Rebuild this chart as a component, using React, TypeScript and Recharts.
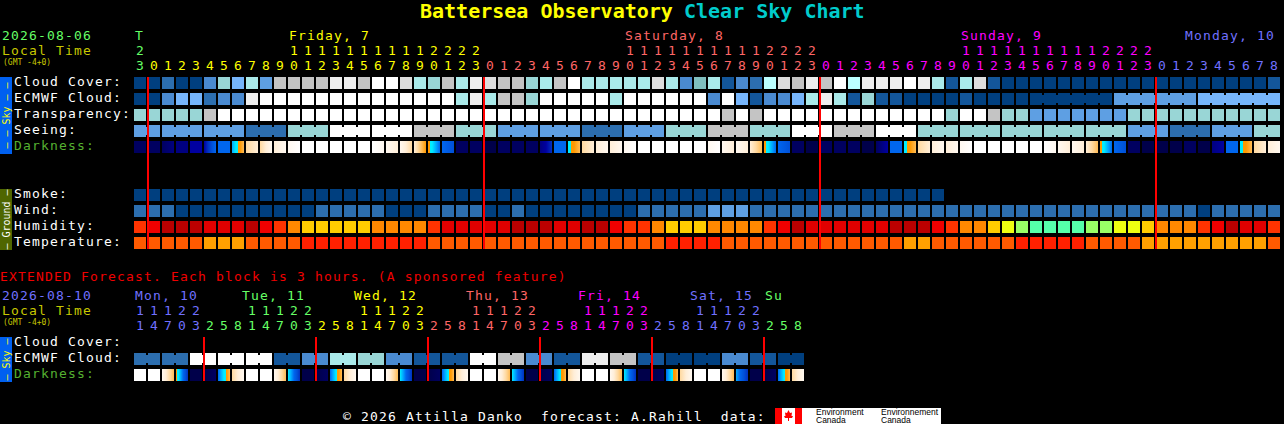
import { ScatterChart, Scatter, XAxis, YAxis, ReferenceLine } from "recharts";

const FONT = "'DejaVu Sans Mono', monospace";
const TEXT_SIZE = 13;
const TEXT_SPACING = 1.17;

// colour scales, the series below hold indexes into these
const skyScale = ["#003f7f", "#13569a", "#2c6eaf", "#4a8ad0", "#5e9fe3", "#76b5fb", "#7fbfbf", "#99d6d6", "#aaeaea", "#bbffff", "#c4c4c4", "#dddddd", "#eeeeee", "#ffffff"];
const humidityScale = ["#bb0000", "#e00000", "#f00000", "#ff3300", "#ff8800", "#ffcc00", "#eeff11", "#99ff66", "#55ffaa"];
const temperatureScale = ["#ff2000", "#ff5a00", "#ffa000"];
const darknessScale = ["#00004a", "#000060", "#000080", "#0000a0", "#0030c0", "#0050d8", "#0066ee", "#00aaff", "#00eeff", "#ff9900", "#ffbb55", "#ffd9a0", "#ffeed8", "#fff8f0", "#ffffff"];

const GREEN = "#66ff66";
const YELLOW = "#ffff00";
const SALMON = "#ff6666";
const MAGENTA = "#ff00ff";
const BLUE = "#7070ff";
const OLIVE = "#c8c800";

// main 82 hour forecast
const mainHours = [23, 0, 1, 2, 3, 4, 5, 6, 7, 8, 9, 10, 11, 12, 13, 14, 15, 16, 17, 18, 19, 20, 21, 22, 23, 0, 1, 2, 3, 4, 5, 6, 7, 8, 9, 10, 11, 12, 13, 14, 15, 16, 17, 18, 19, 20, 21, 22, 23, 0, 1, 2, 3, 4, 5, 6, 7, 8, 9, 10, 11, 12, 13, 14, 15, 16, 17, 18, 19, 20, 21, 22, 23, 0, 1, 2, 3, 4, 5, 6, 7, 8];
const mainDayStarts = [0, 1, 25, 49, 73];
const mainDayColors = [GREEN, YELLOW, SALMON, MAGENTA, BLUE];
const mainDayLabels: Record<number, string> = { 0: "T", 11: "Friday, 7", 35: "Saturday, 8", 59: "Sunday, 9", 75: "Monday, 10" };
const mainMidnights = [1, 25, 49, 73];

const cloudCover = [0, 0, 2, 0, 0, 3, 7, 5, 8, 4, 10, 10, 10, 10, 12, 12, 10, 13, 13, 11, 8, 7, 10, 8, 12, 11, 10, 10, 7, 8, 10, 13, 8, 8, 8, 8, 8, 11, 8, 3, 6, 8, 1, 3, 2, 9, 11, 10, 12, 10, 13, 9, 12, 12, 12, 13, 12, 8, 1, 8, 11, 1, 0, 0, 0, 0, 0, 0, 0, 0, 0, 0, 0, 0, 0, 0, 0, 0, 0, 0, 0, 1];
const ecmwfCloud = [0, 0, 3, 5, 5, 2, 3, 3, 12, 13, 13, 13, 13, 13, 13, 13, 13, 13, 13, 13, 13, 13, 13, 8, 12, 8, 10, 10, 7, 13, 13, 13, 13, 13, 8, 13, 13, 13, 13, 13, 13, 3, 13, 5, 1, 3, 3, 5, 8, 12, 8, 1, 7, 1, 1, 0, 0, 0, 0, 1, 0, 0, 0, 0, 0, 0, 0, 0, 0, 0, 4, 4, 4, 4, 4, 4, 5, 5, 5, 5, 5, 5];
const ecmwfBlocks = [1, 1, 1, 1, 1, 1, 1, 1, 1, 1, 1, 1, 1, 1, 1, 1, 1, 1, 1, 1, 1, 1, 1, 1, 1, 1, 1, 1, 1, 1, 1, 1, 1, 1, 1, 1, 1, 1, 1, 1, 1, 1, 1, 1, 1, 1, 1, 1, 1, 1, 1, 1, 1, 1, 1, 1, 1, 1, 1, 1, 1, 1, 1, 1, 6, 6, 6];
const transparency = [7, 7, 7, 7, 7, 10, 13, 13, 13, 13, 13, 13, 13, 13, 13, 13, 13, 13, 13, 13, 13, 13, 13, 13, 13, 13, 13, 13, 13, 13, 13, 13, 13, 13, 13, 13, 13, 13, 13, 13, 13, 13, 10, 13, 10, 13, 13, 13, 13, 13, 13, 13, 13, 13, 13, 13, 13, 13, 7, 13, 13, 10, 7, 7, 4, 4, 4, 4, 4, 4, 4, 7, 7, 7, 7, 7, 7, 7, 7, 7, 7, 7];
const seeing = [4, 4, 4, 4, 4, 4, 4, 4, 2, 2, 2, 7, 7, 7, 13, 13, 13, 13, 13, 13, 10, 10, 10, 7, 7, 7, 4, 4, 4, 4, 4, 4, 2, 2, 2, 4, 4, 4, 7, 7, 7, 10, 10, 10, 7, 7, 7, 13, 13, 13, 10, 10, 10, 13, 13, 13, 7, 7, 7, 7, 7, 7, 7, 7, 7, 7, 7, 7, 7, 7, 7, 4, 4, 4, 2, 2, 2, 4, 4, 4, 7, 7];
const seeingBlocks = [2, 3, 3, 3, 3, 3, 3, 3, 3, 3, 3, 3, 3, 3, 3, 3, 3, 3, 3, 3, 3, 3, 3, 3, 3, 3, 3, 2];
const darknessFrom = [1, 1, 1, 2, 3, 3, 6, 7, 11, 11, 12, 13, 14, 14, 14, 14, 14, 14, 13, 13, 12, 9, 6, 1, 1, 0, 1, 1, 1, 2, 6, 8, 11, 12, 12, 13, 14, 14, 14, 14, 14, 13, 13, 13, 12, 9, 6, 1, 0, 1, 1, 1, 0, 1, 6, 8, 11, 12, 12, 13, 14, 14, 14, 14, 14, 14, 13, 13, 12, 9, 6, 1, 0, 0, 0, 1, 0, 2, 6, 8, 11, 12];
const darknessTo = [1, 1, 2, 2, 3, 6, 6, 10, 12, 13, 13, 14, 14, 14, 14, 14, 14, 13, 12, 11, 9, 6, 5, 1, 1, 0, 1, 1, 1, 4, 6, 10, 12, 13, 13, 14, 14, 14, 14, 14, 14, 14, 12, 12, 10, 6, 5, 1, 0, 1, 1, 1, 0, 3, 6, 10, 12, 13, 13, 14, 14, 14, 14, 14, 14, 13, 12, 12, 10, 6, 5, 1, 0, 0, 0, 1, 0, 3, 6, 10, 12, 13];
const smoke = [0, 0, 0, 0, 0, 0, 0, 0, 0, 0, 0, 0, 0, 0, 0, 0, 0, 0, 0, 0, 0, 0, 0, 0, 0, 0, 0, 0, 0, 0, 0, 0, 0, 0, 0, 0, 0, 0, 0, 0, 0, 0, 0, 0, 0, 0, 0, 0, 0, 0, 0, 0, 0, 0, 0, 0, 0, 0];
const wind = [2, 2, 2, 0, 0, 0, 0, 0, 0, 0, 0, 0, 0, 2, 2, 2, 2, 2, 0, 0, 0, 2, 2, 2, 2, 0, 0, 2, 0, 0, 0, 0, 0, 0, 0, 0, 2, 2, 2, 2, 2, 4, 4, 4, 2, 2, 2, 2, 2, 2, 2, 2, 2, 2, 2, 2, 2, 2, 2, 2, 2, 2, 2, 2, 2, 2, 2, 2, 2, 2, 2, 2, 2, 2, 2, 2, 0, 2, 2, 2, 2, 2];
const humidity = [3, 2, 0, 0, 0, 1, 1, 1, 0, 2, 3, 4, 5, 5, 5, 5, 5, 4, 4, 4, 4, 3, 1, 1, 1, 1, 1, 0, 0, 0, 1, 1, 0, 0, 2, 3, 3, 4, 5, 5, 5, 4, 4, 4, 4, 3, 2, 0, 1, 1, 1, 1, 1, 1, 0, 0, 0, 2, 3, 4, 4, 5, 6, 7, 8, 8, 8, 8, 7, 7, 6, 6, 5, 4, 4, 4, 3, 2, 0, 1, 1, 3];
const temperature = [1, 1, 1, 1, 1, 2, 2, 2, 1, 1, 1, 1, 0, 0, 0, 0, 0, 0, 0, 0, 0, 1, 1, 1, 1, 1, 1, 1, 1, 1, 1, 1, 1, 1, 1, 1, 1, 1, 0, 0, 0, 0, 1, 1, 1, 1, 1, 1, 1, 1, 1, 1, 1, 1, 1, 2, 2, 1, 1, 1, 1, 1, 1, 0, 0, 0, 0, 0, 1, 1, 1, 1, 2, 2, 2, 2, 2, 2, 2, 2, 2, 1];

// extended forecast, one block is 3 hours
const extHours = [11, 14, 17, 20, 23, 2, 5, 8, 11, 14, 17, 20, 23, 2, 5, 8, 11, 14, 17, 20, 23, 2, 5, 8, 11, 14, 17, 20, 23, 2, 5, 8, 11, 14, 17, 20, 23, 2, 5, 8, 11, 14, 17, 20, 23, 2, 5, 8];
const extDayStarts = [0, 5, 13, 21, 29, 37, 45];
const extDayColors = [BLUE, GREEN, YELLOW, SALMON, MAGENTA, BLUE, GREEN];
const extDayLabels: Record<number, string> = { 0: "Mon, 10", 8: "Tue, 11", 16: "Wed, 12", 24: "Thu, 13", 32: "Fri, 14", 40: "Sat, 15", 45: "Su" };
const extMidnights = [5, 13, 21, 29, 37, 45];
const extEcmwf = [2, 2, 2, 2, 13, 13, 13, 13, 13, 13, 1, 1, 3, 3, 8, 8, 7, 7, 3, 3, 1, 1, 1, 1, 13, 13, 10, 10, 3, 3, 1, 1, 12, 12, 10, 10, 1, 1, 0, 0, 0, 0, 3, 3, 1, 1, 0, 0];
const extBlocks = [2, 2, 2, 2, 2, 2, 2, 2, 2, 2, 2, 2, 2, 2, 2, 2, 2, 2, 2, 2, 2, 2, 2, 2];
const extDarkFrom = [14, 14, 13, 9, 0, 0, 6, 11, 14, 14, 13, 8, 0, 0, 6, 11, 14, 14, 13, 8, 0, 0, 6, 11, 14, 14, 13, 8, 0, 0, 6, 11, 14, 14, 13, 8, 0, 0, 6, 11, 14, 14, 13, 7, 0, 0, 6, 11];
const extDarkTo = [14, 14, 10, 4, 0, 1, 10, 13, 14, 14, 10, 4, 0, 1, 10, 13, 14, 14, 10, 4, 0, 1, 10, 13, 14, 14, 10, 4, 0, 1, 10, 13, 14, 14, 10, 4, 0, 1, 10, 13, 14, 14, 10, 4, 0, 1, 10, 13];

const mainRowLabels: Record<number, string> = { 0: "Cloud Cover:", 1: "ECMWF Cloud:", 2: "Transparency:", 3: "Seeing:", 4: "Darkness:", 7: "Smoke:", 8: "Wind:", 9: "Humidity:", 10: "Temperature:" };
const extRowLabels: Record<number, string> = { 0: "Cloud Cover:", 1: "ECMWF Cloud:", 2: "Darkness:" };
const DARK_LABEL = "Darkness:";

function bridgeFlags(blocks: number[]) {
  const flags: boolean[] = [];
  blocks.forEach((len) => {
    for (let i = 0; i < len; i++) flags.push(i < len - 1);
  });
  return flags;
}

function rowPoints(values: number[], scale: string[], row: number, blocks?: number[]) {
  const flags = blocks ? bridgeFlags(blocks) : [];
  return values.map((v, c) => ({ x: c + 0.5, y: row, color: scale[v], bridge: !!flags[c] }));
}

function darkPoints(from: number[], to: number[], row: number, prefix: string) {
  return from.map((v, c) => ({ x: c + 0.5, y: row, from: v, to: to[c], id: `${prefix}${c}` }));
}

function dayColor(col: number, starts: number[], colors: string[]) {
  let found = colors[0];
  starts.forEach((s, i) => {
    if (col >= s) found = colors[i];
  });
  return found;
}

function BlockCell(props: any) {
  const { cx, cy, payload } = props;
  return (
    <g>
      <rect x={cx - 7} y={cy - 6} width={12} height={12} fill={payload.color} />
      {payload.bridge && <rect x={cx + 5} y={cy - 4} width={2} height={8} fill={payload.color} />}
    </g>
  );
}

function DarkCell(props: any) {
  const { cx, cy, payload } = props;
  const { from, to, id } = payload;
  if (from === to) {
    return <rect x={cx - 7} y={cy - 6} width={12} height={12} fill={darknessScale[from]} />;
  }
  const steps = Math.abs(to - from);
  const dir = to > from ? 1 : -1;
  const stops: { offset: number; color: string }[] = [];
  for (let i = 0; i <= steps; i++) {
    const level = from + dir * i;
    const offset = (i / steps) * 100;
    stops.push({ offset, color: darknessScale[level] });
    // blue to orange has no soft step
    const next = level + dir;
    if (i < steps && Math.min(level, next) === 8) {
      stops.push({ offset: ((i + 0.5) / steps) * 100, color: darknessScale[level] });
      stops.push({ offset: ((i + 0.5) / steps) * 100, color: darknessScale[next] });
    }
  }
  return (
    <g>
      <defs>
        <linearGradient id={id} x1="0" y1="0" x2="1" y2="0">
          {stops.map((s, i) => (
            <stop key={i} offset={`${s.offset}%`} stopColor={s.color} />
          ))}
        </linearGradient>
      </defs>
      <rect x={cx - 7} y={cy - 6} width={12} height={12} fill={`url(#${id})`} />
    </g>
  );
}

function HourTick(props: any) {
  const { x, y, payload, hours, starts, colors, labels, labelDx } = props;
  const col = Math.floor(payload.value);
  const hour = hours[col];
  const color = dayColor(col, starts, colors);
  const label = labels[col];
  return (
    <g fontFamily={FONT} fontSize={TEXT_SIZE} fill={color}>
      {label && (
        <text x={x + labelDx(col)} y={y - 37} letterSpacing={TEXT_SPACING}>
          {label}
        </text>
      )}
      {hour >= 10 && (
        <text x={x - 1} y={y - 22} textAnchor="middle">
          {Math.floor(hour / 10)}
        </text>
      )}
      <text x={x - 1} y={y - 7} textAnchor="middle">
        {hour % 10}
      </text>
    </g>
  );
}

function RowTick(props: any) {
  const { y, payload, labels } = props;
  const text = labels[payload.value];
  return (
    <text x={14} y={y + 3} fontFamily={FONT} fontSize={TEXT_SIZE} letterSpacing={TEXT_SPACING} fill={text === DARK_LABEL ? "#55b030" : "#ffffff"}>
      {text}
    </text>
  );
}

// the red midnight lines have to lie over the cells, so they get their own chart on top
function MidnightLines({ width, height, margin, xDomain, yDomain, cols }: any) {
  return (
    <div style={{ position: "absolute", left: 0, top: 0 }}>
      <ScatterChart width={width} height={height} margin={margin}>
        <XAxis type="number" dataKey="x" domain={xDomain} hide />
        <YAxis type="number" dataKey="y" domain={yDomain} reversed hide />
        <Scatter data={cols.map((c: number) => ({ x: c, y: 0 }))} shape={() => <g />} isAnimationActive={false} />
        {cols.map((c: number) => (
          <ReferenceLine key={c} x={c} stroke="#ff0000" strokeWidth={2} />
        ))}
      </ScatterChart>
    </div>
  );
}

const mainTicks = mainHours.map((_, c) => c + 0.5);
const extTicks = extHours.map((_, c) => c + 0.5);
const mainXDomain = [0, 82];
const mainYDomain = [-0.375, 10.375];
const extXDomain = [0, 48];
const extYDomain = [-0.375, 2.375];

function MainChart() {
  return (
    <ScatterChart width={1284} height={255} margin={{ top: 0, right: 2, bottom: 6, left: 0 }}>
      <XAxis
        type="number"
        dataKey="x"
        orientation="top"
        domain={mainXDomain}
        ticks={mainTicks}
        interval={0}
        height={77}
        axisLine={false}
        tickLine={false}
        tickSize={0}
        tickMargin={0}
        tick={(p: any) => (
          <HourTick {...p} hours={mainHours} starts={mainDayStarts} colors={mainDayColors} labels={mainDayLabels} labelDx={() => -6} />
        )}
      />
      <YAxis
        type="number"
        dataKey="y"
        reversed
        domain={mainYDomain}
        ticks={[0, 1, 2, 3, 4, 7, 8, 9, 10]}
        interval={0}
        width={134}
        axisLine={false}
        tickLine={false}
        tickSize={0}
        tick={(p: any) => <RowTick {...p} labels={mainRowLabels} />}
      />
      <Scatter data={rowPoints(cloudCover, skyScale, 0)} shape={BlockCell} isAnimationActive={false} />
      <Scatter data={rowPoints(ecmwfCloud, skyScale, 1, ecmwfBlocks)} shape={BlockCell} isAnimationActive={false} />
      <Scatter data={rowPoints(transparency, skyScale, 2)} shape={BlockCell} isAnimationActive={false} />
      <Scatter data={rowPoints(seeing, skyScale, 3, seeingBlocks)} shape={BlockCell} isAnimationActive={false} />
      <Scatter data={darkPoints(darknessFrom, darknessTo, 4, "main-dark-")} shape={DarkCell} isAnimationActive={false} />
      <Scatter data={rowPoints(smoke, skyScale, 7)} shape={BlockCell} isAnimationActive={false} />
      <Scatter data={rowPoints(wind, skyScale, 8)} shape={BlockCell} isAnimationActive={false} />
      <Scatter data={rowPoints(humidity, humidityScale, 9)} shape={BlockCell} isAnimationActive={false} />
      <Scatter data={rowPoints(temperature, temperatureScale, 10)} shape={BlockCell} isAnimationActive={false} />
    </ScatterChart>
  );
}

function ExtendedChart() {
  return (
    <ScatterChart width={806} height={104} margin={{ top: 0, right: 0, bottom: 3, left: 0 }}>
      <XAxis
        type="number"
        dataKey="x"
        orientation="top"
        domain={extXDomain}
        ticks={extTicks}
        interval={0}
        height={57}
        axisLine={false}
        tickLine={false}
        tickSize={0}
        tickMargin={0}
        tick={(p: any) => (
          <HourTick
            {...p}
            hours={extHours}
            starts={extDayStarts}
            colors={extDayColors}
            labels={extDayLabels}
            labelDx={(c: number) => (c === 0 || c === 45 ? -6 : -11)}
          />
        )}
      />
      <YAxis
        type="number"
        dataKey="y"
        reversed
        domain={extYDomain}
        ticks={[0, 1, 2]}
        interval={0}
        width={134}
        axisLine={false}
        tickLine={false}
        tickSize={0}
        tick={(p: any) => <RowTick {...p} labels={extRowLabels} />}
      />
      <Scatter data={rowPoints(extEcmwf, skyScale, 1, extBlocks)} shape={BlockCell} isAnimationActive={false} />
      <Scatter data={darkPoints(extDarkFrom, extDarkTo, 2, "ext-dark-")} shape={DarkCell} isAnimationActive={false} />
    </ScatterChart>
  );
}

function SideStrip({ y, height, fill, color, text }: { y: number; height: number; fill: string; color: string; text: string }) {
  const mid = y + height / 2;
  return (
    <g>
      <rect x={0} y={y} width={12} height={height} fill={fill} />
      <text x={6} y={mid} transform={`rotate(-90 6 ${mid})`} dy={3.5} textAnchor="middle" fontFamily={FONT} fontSize={10} letterSpacing={0} fill={color}>
        {text}
      </text>
    </g>
  );
}

function Overlay() {
  return (
    <svg width={1284} height={424} style={{ position: "absolute", left: 0, top: 0 }} fontFamily={FONT} fontSize={TEXT_SIZE} letterSpacing={TEXT_SPACING}>
      <text x={420} y={18} fontSize={20} fontWeight="bold" letterSpacing={0} fill="#ffff00">
        Battersea Observatory
      </text>
      <text x={684} y={18} fontSize={20} fontWeight="bold" letterSpacing={0} fill="#00cccc">
        Clear Sky Chart
      </text>

      <text x={2} y={40} fill={GREEN}>2026-08-06</text>
      <text x={2} y={55} fill={OLIVE}>Local Time</text>
      <text x={3} y={65} fontSize={8} letterSpacing={0} fill={OLIVE}>(GMT -4+0)</text>

      <SideStrip y={77} height={77} fill="#0060f0" color="#ffff00" text="– – Sky – –" />
      <SideStrip y={189} height={61} fill="#4f6600" color="#ffffff" text="– Ground –" />
      <SideStrip y={337} height={45} fill="#0060f0" color="#ffff00" text="– Sky –" />

      <text x={0} y={281} fill="#f00000">EXTENDED Forecast. Each block is 3 hours. (A sponsored feature)</text>
      <text x={2} y={300} fill={BLUE}>2026-08-10</text>
      <text x={2} y={315} fill={OLIVE}>Local Time</text>
      <text x={3} y={325} fontSize={8} letterSpacing={0} fill={OLIVE}>(GMT -4+0)</text>

      <text x={343} y={421} fill="#ffffff" xmlSpace="preserve">
        © 2026 Attilla Danko  forecast: A.Rahill  data:
      </text>

      <rect x={775} y={408} width={166} height={16} fill="#ffffff" />
      <rect x={775} y={408} width={7} height={16} fill="#ff0000" />
      <rect x={795} y={408} width={7} height={16} fill="#ff0000" />
      <polygon points="788.5,410 790,413 792,412.5 791.5,416 793,416 792,418 789,418 789,421 788,421 788,418 785,418 784,416 785.500,416 785,412.5 787,413" fill="#ff0000" />
      <g fontFamily="'Liberation Sans', sans-serif" fontSize={8.5} letterSpacing={0} fill="#000000">
        <text x={816} y={415}>Environment</text>
        <text x={816} y={423}>Canada</text>
        <text x={881} y={415}>Environnement</text>
        <text x={881} y={423}>Canada</text>
      </g>
    </svg>
  );
}

export default function App() {
  return (
    <div style={{ position: "absolute", left: 0, top: 0, width: 1284, height: 424, background: "#000000", overflow: "hidden" }}>
      <Overlay />
      <div style={{ position: "absolute", left: 0, top: 0, width: 1284, height: 255 }}>
        <MainChart />
        <MidnightLines width={1284} height={255} margin={{ top: 77, right: 2, bottom: 6, left: 134 }} xDomain={mainXDomain} yDomain={mainYDomain} cols={mainMidnights} />
      </div>
      <div style={{ position: "absolute", left: 0, top: 280, width: 806, height: 104 }}>
        <ExtendedChart />
        <MidnightLines width={806} height={104} margin={{ top: 57, right: 0, bottom: 3, left: 134 }} xDomain={extXDomain} yDomain={extYDomain} cols={extMidnights} />
      </div>
    </div>
  );
}
